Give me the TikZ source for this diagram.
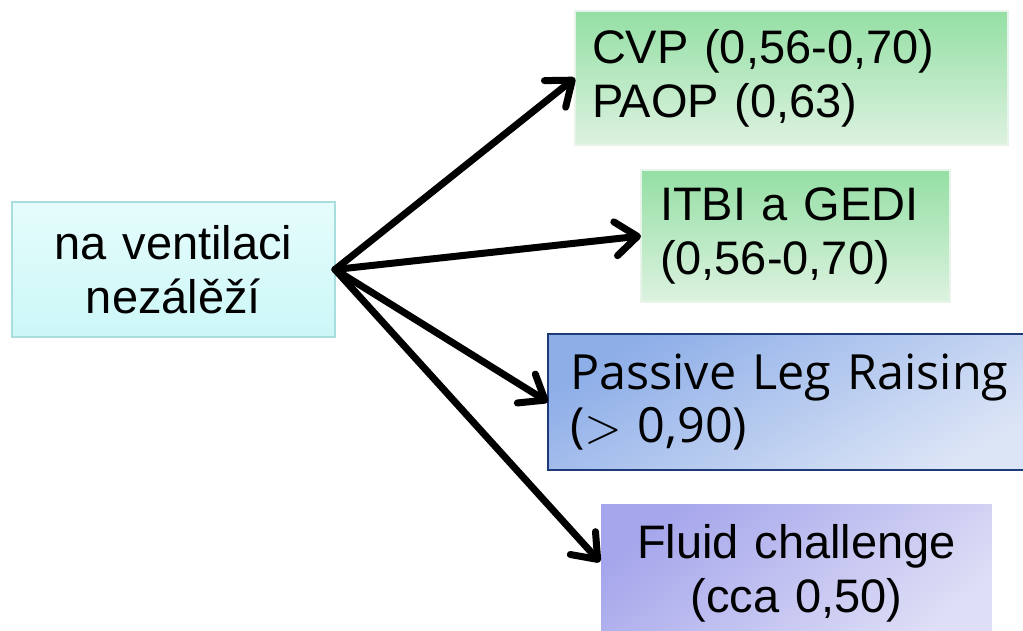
\documentclass[tikz,border=0pt]{standalone}
\usepackage{graphicx}
\usepackage{fontspec}
\setmainfont{Liberation Sans}
\newfontfamily\plrfont{Open Sans}
\usetikzlibrary{arrows.meta}
\definecolor{srctop}{HTML}{E6FCFC}
\definecolor{srcbot}{HTML}{CCF7F7}
\definecolor{srcline}{HTML}{A8DEDE}
\definecolor{greentop}{HTML}{94DFA4}
\definecolor{greenbot}{HTML}{DDF2E0}
\definecolor{greenline}{HTML}{E8F4EA}
\definecolor{bluetop}{HTML}{8EAEE8}
\definecolor{bluebot}{HTML}{DCE5F6}
\definecolor{blueline}{HTML}{1F3A78}
\definecolor{violtop}{HTML}{A6A6EC}
\definecolor{violbot}{HTML}{DEDEF6}
\newcommand{\bigger}{\scalebox{4.8}{\normalsize$>$}}
\tikzset{
  box/.style={rectangle,inner ysep=0pt,outer sep=0pt,line width=1.2pt},
  srcbox/.style={box,draw=srcline,top color=srctop,bottom color=srcbot,align=center},
  greenbox/.style={box,draw=greenline,top color=greentop,bottom color=greenbot,align=left},
  bluebox/.style={box,draw=blueline,line width=2pt,top color=bluetop,bottom color=bluebot,shading angle=30,align=left},
  violetbox/.style={box,draw=white,top color=violtop,bottom color=violbot,shading angle=40,align=center},
  arr/.style={line width=7pt,line cap=round,-{Straight Barb[length=22pt,width=34pt,round]}}
}
\begin{document}
\begin{tikzpicture}[font=\fontsize{47}{54}\selectfont,x=1pt,y=-1pt]
\useasboundingbox (0,0) rectangle (1023,631);
% boxes
\node[srcbox,minimum width=323pt,minimum height=135pt,text width=300pt,inner xsep=0pt] (src) at (173.5,269.5) {na ventilaci\\nezálěží};
\node[greenbox,minimum width=433pt,minimum height=134pt,text width=399pt,inner xsep=17pt] (cvp) at (791.5,78) {CVP (0,56-0,70)\\PAOP (0,63)};
\node[greenbox,minimum width=309pt,minimum height=132pt,text width=271pt,inner xsep=19pt] (itbi) at (795.5,236) {ITBI a GEDI\\(0,56-0,70)};
\node[bluebox,minimum width=492pt,minimum height=136pt,text width=448pt,inner xsep=22pt,font=\plrfont\fontsize{48.5}{53}\selectfont] (plr) at (794,402) {Passive Leg Raising\\(\bigger{} 0,90)};
\node[violetbox,minimum width=393pt,minimum height=140pt,text width=370pt,inner xsep=0pt] (fluid) at (796.5,573) {Fluid challenge\\(cca 0,50)};
% arrows
\coordinate (fluidin) at ([yshift=11pt]fluid.west);
\foreach \tgt in {cvp.west,itbi.west,plr.west,fluidin}{\draw[arr] (src.east)--(\tgt);}
\end{tikzpicture}
\end{document}
